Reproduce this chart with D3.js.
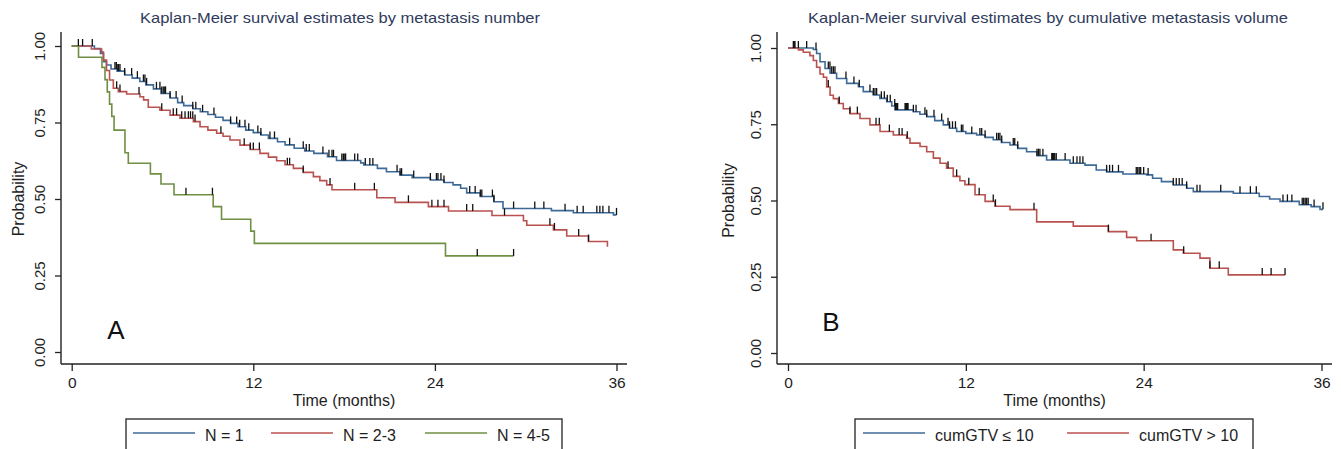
<!DOCTYPE html>
<html>
<head>
<meta charset="utf-8">
<script src="https://cdn.jsdelivr.net/npm/d3@7"></script>
<style>
  body { margin: 0; background: #fff; }
  svg text { font-family: "Liberation Sans", Arial, sans-serif; }
</style>
</head>
<body>
<div id="km"></div>
<script>
// ---- values ----
const timeTicks = [0, 12, 24, 36];
const probTicks = [0, 0.25, 0.5, 0.75, 1];

// panel A : metastasis number  -- steps are [time, survival after event]
const n1Steps = [[0,1],[1.5,0.992],[1.9,0.976],[2.1,0.949],[2.3,0.938],[2.6,0.925],[3.0,0.918],[3.5,0.905],[4.0,0.895],[4.5,0.884],[4.9,0.873],[5.4,0.86],[5.9,0.845],[6.5,0.83],[7.0,0.815],[7.4,0.805],[8.0,0.795],[8.5,0.785],[9.0,0.776],[9.5,0.767],[10.0,0.757],[10.5,0.747],[11.0,0.736],[11.5,0.725],[12.0,0.717],[12.5,0.709],[13.0,0.698],[13.6,0.687],[14.1,0.677],[14.7,0.666],[15.4,0.657],[16.0,0.649],[16.9,0.638],[17.5,0.626],[19.1,0.618],[19.3,0.611],[20.2,0.6],[20.8,0.589],[21.7,0.578],[22.5,0.57],[23.7,0.562],[24.6,0.554],[25.2,0.546],[25.7,0.535],[26.1,0.52],[27.0,0.508],[27.9,0.491],[28.5,0.469],[31.7,0.462],[33.15,0.455],[35.8,0.448]];
const n1End = 36.0;
const n1Censor = [0.44,0.72,1.36,2.86,2.95,3.05,3.1,3.19,3.5,3.96,4.34,4.74,4.84,4.95,5.6,5.83,5.95,6.05,6.15,6.2,6.5,6.9,7.3,8.0,8.2,8.65,9.4,10.5,10.9,11.1,11.45,11.7,12.3,12.5,13.1,13.4,14.4,15.3,15.5,15.7,16.6,17.0,17.2,17.3,17.85,17.95,18.05,18.1,18.7,18.9,19.4,19.7,19.9,21.5,21.7,21.8,22.6,23.7,24.1,24.2,24.4,24.6,26.3,26.66,27.0,27.1,27.8,27.9,29.2,30.6,31.2,32.6,33.4,33.8,34.7,34.9,35.1,35.5,36.0];

const n23Steps = [[0,1],[1.3,0.99],[1.98,0.98],[2.1,0.954],[2.3,0.92],[2.5,0.889],[2.75,0.862],[3.08,0.851],[3.63,0.843],[4.51,0.834],[4.75,0.824],[5.06,0.8],[5.83,0.79],[6.5,0.774],[7.16,0.764],[8.04,0.753],[8.48,0.736],[9.0,0.725],[9.58,0.715],[10.0,0.705],[10.46,0.693],[11.12,0.676],[11.8,0.662],[12.44,0.649],[13.0,0.637],[13.54,0.625],[14.1,0.612],[14.65,0.6],[15.3,0.587],[15.97,0.573],[16.4,0.56],[16.85,0.546],[17.2,0.53],[20.16,0.504],[21.37,0.489],[23.57,0.475],[24.9,0.461],[27.77,0.446],[29.85,0.429],[30.07,0.414],[31.83,0.399],[32.71,0.379],[34.15,0.361],[35.4,0.344]];
const n23End = 35.4;
const n23Censor = [2.97,3.19,4.45,5.95,6.71,6.93,7.27,7.49,7.71,7.85,8.0,8.15,9.86,11.4,11.8,12.0,12.4,14.25,14.4,15.3,17.07,18.7,20.0,22.25,23.8,24.2,24.6,26.1,26.5,28.6,31.6,31.9,33.5,34.15];

const n45Steps = [[0,1],[0.45,0.963],[2.0,0.93],[2.2,0.89],[2.35,0.85],[2.5,0.81],[2.65,0.77],[2.8,0.725],[3.52,0.651],[3.74,0.617],[5.2,0.582],[5.9,0.549],[6.76,0.514],[9.35,0.475],[9.9,0.434],[11.83,0.395],[12.07,0.355],[24.7,0.314]];
const n45End = 29.2;
const n45Censor = [7.55,9.3,26.8,29.2];

// panel B : cumulative volume
const lowSteps = [[0,1],[1.71,0.995],[1.93,0.982],[2.16,0.955],[2.5,0.933],[2.84,0.917],[3.28,0.9],[3.96,0.884],[4.75,0.873],[5.08,0.857],[5.76,0.846],[6.2,0.835],[6.66,0.824],[7.0,0.81],[7.22,0.797],[8.46,0.791],[8.9,0.783],[9.36,0.775],[9.9,0.762],[10.48,0.748],[10.9,0.737],[11.38,0.726],[12.0,0.72],[12.73,0.715],[13.3,0.707],[13.85,0.699],[14.4,0.69],[14.98,0.682],[15.5,0.671],[16.1,0.66],[16.8,0.647],[17.45,0.633],[19.03,0.622],[20.04,0.616],[20.8,0.6],[21.5,0.594],[22.6,0.587],[24.2,0.584],[24.6,0.573],[25.2,0.562],[26.0,0.551],[26.9,0.54],[27.35,0.529],[30.05,0.524],[31.8,0.513],[32.5,0.505],[33.2,0.497],[34.5,0.486],[35.3,0.48],[35.9,0.471]];
const lowEnd = 36.1;
const lowCensor = [0.36,0.42,0.47,0.7,1.26,1.89,2.72,2.83,2.95,3.06,3.17,3.91,4.45,4.81,5.53,5.76,5.87,5.98,6.3,6.5,6.7,6.9,7.2,7.25,7.3,7.35,7.4,7.9,7.95,8.0,8.05,8.1,8.46,8.64,9.24,9.36,9.85,10.37,10.8,10.9,11.1,11.3,11.7,11.8,12.4,12.95,13.07,13.3,14.08,14.2,14.3,14.42,15.2,15.3,15.5,16.8,16.9,17.0,17.2,17.8,17.85,17.9,17.95,18.0,18.1,18.7,19.25,19.5,19.7,19.9,21.5,21.7,21.9,22.3,23.5,23.6,23.7,23.8,24.0,24.3,26.0,26.2,26.4,26.6,26.9,27.6,27.8,29.2,30.5,31.2,31.6,33.4,33.7,34.0,34.7,34.8,34.9,35.0,35.1,35.5,36.1];

const highSteps = [[0,1],[0.7,0.994],[1.03,0.986],[1.48,0.975],[1.71,0.959],[1.93,0.937],[2.16,0.915],[2.39,0.904],[2.61,0.872],[2.84,0.845],[3.06,0.834],[3.4,0.818],[3.73,0.801],[4.18,0.785],[4.86,0.769],[5.53,0.748],[6.21,0.726],[7.11,0.715],[8.01,0.704],[8.23,0.688],[8.91,0.677],[9.36,0.66],[9.81,0.639],[10.26,0.622],[10.7,0.606],[11.15,0.579],[11.6,0.565],[11.94,0.552],[12.62,0.519],[13.3,0.497],[13.97,0.481],[14.98,0.47],[16.78,0.43],[19.25,0.416],[21.62,0.398],[22.85,0.379],[23.53,0.368],[26.0,0.338],[26.68,0.327],[27.8,0.311],[28.47,0.278],[29.71,0.256]];
const highEnd = 33.54;
const highCensor = [2.72,3.46,4.18,4.68,5.94,6.16,6.84,7.5,7.7,8.05,10.8,11.38,12.2,12.9,13.85,14.0,16.6,21.62,24.5,26.7,28.47,29.1,32.0,32.6,33.54];

const legendA = ["N = 1", "N = 2-3", "N = 4-5"];
const legendB = ["cumGTV \u2264 10", "cumGTV > 10"];

const colBlue = "#3e6a98", colRed = "#b9524f", colGreen = "#6f8f45";

const svg = d3.select("#km")
  .append("svg")
    .attr("width", 1341)
    .attr("height", 449);

// survival value at time t (step function)
function survAt(steps, t) {
  const i = d3.bisector(d => d[0]).right(steps, t) - 1;
  return steps[Math.max(0, i)][1];
}

function drawPanel(p) {
  const x = d3.scaleLinear().domain([0, 36]).range([p.x0, p.x36]);
  const y = d3.scaleLinear().domain([0, 1]).range([p.yBottom, p.yTop]);
  const g = svg.append("g");

  // title
  g.append("text")
    .attr("x", p.titleX)
    .attr("y", 23)
    .attr("text-anchor", "middle")
    .attr("textLength", p.titleW)
    .attr("lengthAdjust", "spacingAndGlyphs")
    .style("fill", "#2f3a5c")
    .style("font-size", "15px")
    .text(p.title);

  // axis lines
  g.append("line")
    .attr("x1", p.axisX).attr("x2", p.axisX)
    .attr("y1", p.axisTop).attr("y2", p.axisY)
    .style("stroke", "#222").style("stroke-width", 1.4);
  g.append("line")
    .attr("x1", p.axisX).attr("x2", p.axisRight)
    .attr("y1", p.axisY).attr("y2", p.axisY)
    .style("stroke", "#222").style("stroke-width", 1.4);

  // y axis, labels rotated like stata
  const yAx = g.append("g")
    .attr("transform", `translate(${p.axisX},0)`)
    .call(d3.axisLeft(y).tickValues(probTicks).tickFormat(d3.format(".2f")).tickSize(6).tickSizeOuter(0));
  yAx.select(".domain").remove();
  yAx.selectAll("line").style("stroke", "#222").style("stroke-width", 1.3);
  yAx.selectAll("text")
    .attr("x", 0)
    .attr("y", -16)
    .attr("dy", 0)
    .attr("text-anchor", "middle")
    .attr("transform", "rotate(-90)")
    .style("font-size", "15px")
    .style("fill", "#1e1e1e");

  // x axis
  const xAx = g.append("g")
    .attr("transform", `translate(0,${p.axisY})`)
    .call(d3.axisBottom(x).tickValues(timeTicks).tickSize(7).tickSizeOuter(0));
  xAx.select(".domain").remove();
  xAx.selectAll("line").style("stroke", "#222").style("stroke-width", 1.3);
  xAx.selectAll("text")
    .attr("y", 12)
    .attr("dy", "0.75em")
    .style("font-size", "15.5px")
    .style("fill", "#1e1e1e");

  // axis titles
  g.append("text")
    .attr("x", (p.axisX + p.axisRight) / 2)
    .attr("y", 406)
    .attr("text-anchor", "middle")
    .style("font-size", "16px")
    .style("fill", "#1e1e1e")
    .text("Time (months)");
  g.append("text")
    .attr("transform", `translate(${p.probX},${(p.yTop + p.yBottom) / 2}) rotate(-90)`)
    .attr("text-anchor", "middle")
    .style("font-size", "16px")
    .style("fill", "#1e1e1e")
    .text("Probability");

  // survival curves
  const line = d3.line()
    .x(d => x(d[0]))
    .y(d => y(d[1]))
    .curve(d3.curveStepAfter);

  p.series.forEach(s => {
    const pts = s.steps.concat([[s.end, s.steps[s.steps.length - 1][1]]]);
    g.append("path")
      .attr("d", line(pts))
      .attr("fill", "none")
      .attr("stroke", s.color)
      .style("stroke-width", 1.6);
  });
  // censoring marks on top
  p.series.forEach(s => {
    g.selectAll(null)
      .data(s.censor)
      .join("line")
        .attr("x1", d => x(d)).attr("x2", d => x(d))
        .attr("y1", d => y(survAt(s.steps, d)))
        .attr("y2", d => y(survAt(s.steps, d)) - 7)
        .style("stroke", "#111")
        .style("stroke-width", 1.3);
  });

  // panel letter
  g.append("text")
    .attr("x", p.letterX).attr("y", p.letterY)
    .attr("text-anchor", "middle")
    .style("font-size", "26px")
    .style("fill", "#111")
    .text(p.letter);

  // legend box
  const lg = g.append("g");
  lg.append("rect")
    .attr("x", p.legX).attr("y", 419)
    .attr("width", p.legW).attr("height", 40)
    .attr("fill", "none")
    .attr("stroke", "#333")
    .style("stroke-width", 1.4);
  p.series.forEach((s, i) => {
    const lx = p.legItems[i];
    lg.append("line")
      .attr("x1", lx).attr("x2", lx + 62)
      .attr("y1", 433).attr("y2", 433)
      .style("stroke", s.color).style("stroke-width", 1.6);
    lg.append("text")
      .attr("x", lx + 72).attr("y", 441)
      .style("font-size", "16px")
      .style("fill", "#1e1e1e")
      .text(p.legend[i]);
  });
}

drawPanel({
  title: "Kaplan-Meier survival estimates by metastasis number",
  titleX: 340, titleW: 400,
  x0: 71.7, x36: 616.5, yTop: 46, yBottom: 352,
  axisX: 61, axisTop: 32, axisY: 364, axisRight: 627,
  probX: 24,
  letter: "A", letterX: 116, letterY: 339,
  legX: 126, legW: 436, legItems: [133, 271, 425], legend: legendA,
  series: [
    {steps: n1Steps, end: n1End, censor: n1Censor, color: colBlue},
    {steps: n23Steps, end: n23End, censor: n23Censor, color: colRed},
    {steps: n45Steps, end: n45End, censor: n45Censor, color: colGreen}
  ]
});

drawPanel({
  title: "Kaplan-Meier survival estimates by cumulative metastasis volume",
  titleX: 1048, titleW: 480,
  x0: 788, x36: 1321.5, yTop: 48, yBottom: 353,
  axisX: 777, axisTop: 32, axisY: 364, axisRight: 1332,
  probX: 734,
  letter: "B", letterX: 831, letterY: 331,
  legX: 855, legW: 398, legItems: [863, 1067], legend: legendB,
  series: [
    {steps: lowSteps, end: lowEnd, censor: lowCensor, color: colBlue},
    {steps: highSteps, end: highEnd, censor: highCensor, color: colRed}
  ]
});
</script>
</body>
</html>
